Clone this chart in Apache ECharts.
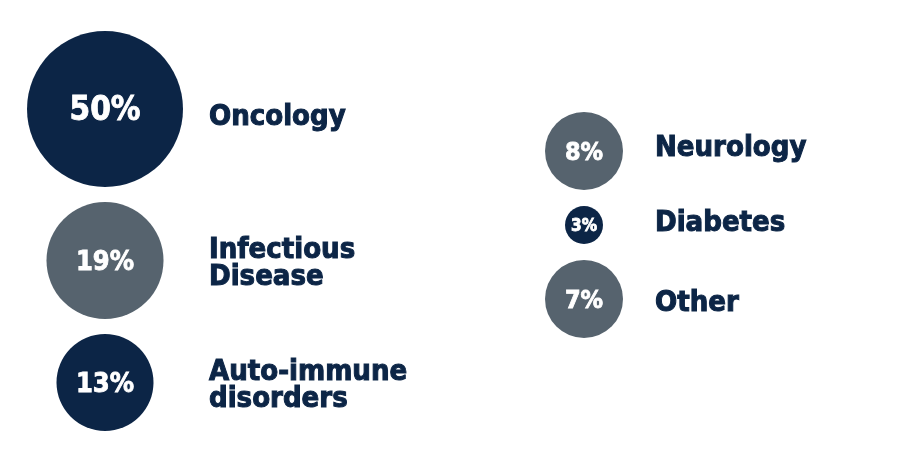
<!DOCTYPE html>
<html>
<head>
<meta charset="utf-8">
<script src="https://cdn.jsdelivr.net/npm/echarts@6/dist/echarts.min.js"></script>
<style>
  html, body { margin: 0; padding: 0; background: #fff; }
  #chart { width: 903px; height: 461px; }
</style>
</head>
<body>
<div id="chart"></div>
<script>
// data
const categories = ["Oncology", "Infectious\nDisease", "Auto-immune\ndisorders", "Neurology", "Diabetes", "Other"];
const shares = [50, 19, 13, 8, 3, 7];
const group = [0, 0, 0, 1, 1, 1]; // which column each bubble sits in

// layout / style
const NAVY = "#0c2546";
const SLATE = "#56636e";
const tones = [NAVY, SLATE, NAVY, SLATE, NAVY, SLATE];
const diameters = [156, 117, 97, 78, 38, 78];
const pctSize = [33, 27, 27, 25, 17, 25];
const nameNudge = [8, 3, 3, -3, -2, 4]; // small vertical tweaks for the names
const colX = [105, 584];
const labelX = [209, 655];
const colTop = [31, 112];
const gap = [15, 16];
const FONT = "'Liberation Sans Narrow', 'DejaVu Sans Condensed', sans-serif";

// stack the bubbles of each column from the top
const cursor = colTop.slice();
const centers = shares.map((v, i) => {
  const g = group[i];
  const cy = cursor[g] + diameters[i] / 2;
  cursor[g] += diameters[i] + gap[g];
  return [colX[g], cy];
});

const bubbleData = shares.map((v, i) => ({
  value: [centers[i][0], centers[i][1], v],
  symbolSize: diameters[i],
  itemStyle: { color: tones[i], opacity: 1 },
  label: { fontSize: pctSize[i], offset: [0, 2] }
}));

const nameData = categories.map((name, i) => ({
  name: name,
  value: [labelX[group[i]], centers[i][1]],
  label: { offset: [0, nameNudge[i]] }
}));

const chart = echarts.init(document.getElementById("chart"));
chart.setOption({
  backgroundColor: "#fff",
  animation: false,
  grid: { left: 0, right: 0, top: 0, bottom: 0 },
  xAxis: { type: "value", min: 0, max: 903, show: false },
  yAxis: { type: "value", min: 0, max: 461, inverse: true, show: false },
  series: [
    {
      type: "scatter",
      data: bubbleData,
      itemStyle: { opacity: 1 },
      label: {
        show: true,
        position: "inside",
        formatter: (p) => p.value[2] + "%",
        color: "#fff",
        fontFamily: FONT,
        fontWeight: "bold",
        textBorderColor: "#fff",
        textBorderWidth: 0.8
      }
    },
    {
      type: "scatter",
      data: nameData,
      symbolSize: 0,
      silent: true,
      itemStyle: { opacity: 1 },
      label: {
        show: true,
        position: "right",
        distance: 0,
        formatter: "{b}",
        color: NAVY,
        fontFamily: FONT,
        fontWeight: "bold",
        fontSize: 29,
        lineHeight: 27,
        textBorderColor: NAVY,
        textBorderWidth: 1
      }
    }
  ]
});
</script>
</body>
</html>
